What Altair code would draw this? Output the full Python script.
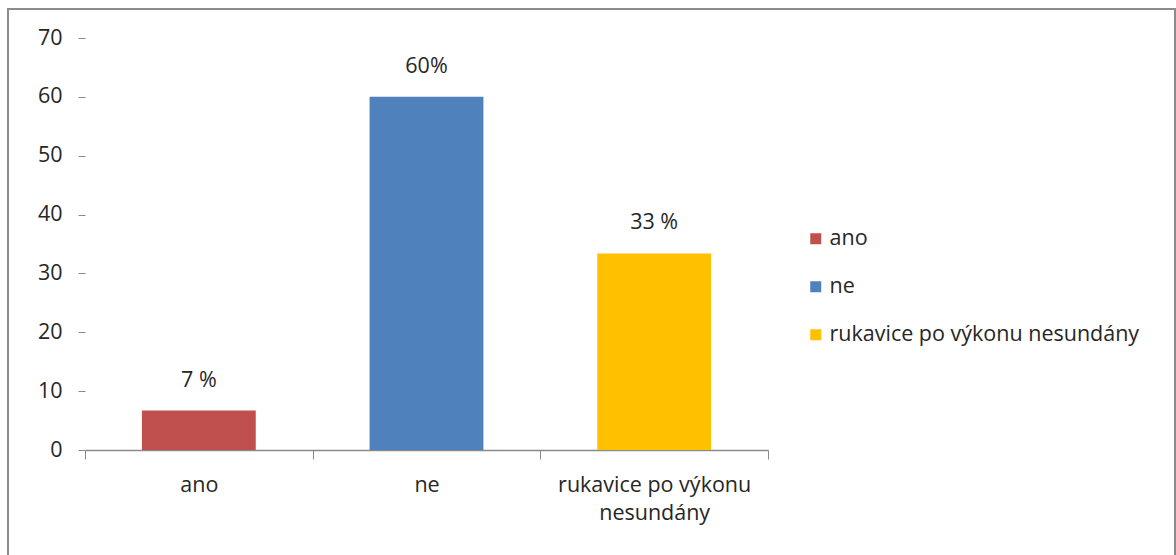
import altair as alt
import pandas as pd

categories = ["ano", "ne", "rukavice po výkonu nesundány"]
values = [6.7, 60.0, 33.4]
value_labels = ["7 %", "60%", "33 %"]
colors = ["#C0504D", "#4F81BD", "#FFC000"]
y_ticks = [0, 10, 20, 30, 40, 50, 60, 70]

df = pd.DataFrame({"cat": categories, "val": values, "lab": value_labels})

FONT = "Open Sans"
FS = 21.5
TXT = "#262626"

x_enc = alt.X(
    "cat:N",
    sort=categories,
    scale=alt.Scale(paddingInner=0, paddingOuter=0),
    axis=alt.Axis(
        title=None,
        labelAngle=0,
        tickBand="extent",
        tickSize=9,
        tickColor="#8a8a8a",
        domainColor="#8a8a8a",
        domainWidth=1.3,
        labelFontSize=FS,
        labelFont=FONT,
        labelColor=TXT,
        labelPadding=15,
        labelLineHeight=28,
        labelLimit=0,
        labelExpr="datum.label == 'rukavice po výkonu nesundány' ? ['rukavice po výkonu', 'nesundány'] : datum.label",
    ),
)
y_enc = alt.Y(
    "val:Q",
    scale=alt.Scale(domain=[0, 70], nice=False),
    axis=alt.Axis(
        title=None,
        values=y_ticks,
        domain=False,
        grid=False,
        tickSize=7,
        tickColor="#8a8a8a",
        labelPadding=16,
        labelFontSize=FS,
        labelFont=FONT,
        labelColor=TXT,
    ),
)

base = alt.Chart(df)

bars = base.mark_bar(width=alt.RelativeBandSize(0.5)).encode(
    x=x_enc,
    y=y_enc,
    color=alt.Color(
        "cat:N",
        scale=alt.Scale(domain=categories, range=colors),
        legend=alt.Legend(
            title=None,
            orient="none",
            legendX=720,
            legendY=190,
            symbolType="square",
            symbolSize=121,
            symbolStrokeWidth=0,
            labelFontSize=FS,
            labelFont=FONT,
            labelColor=TXT,
            labelOffset=3,
            labelLimit=0,
            rowPadding=25,
        ),
    ),
)

text = base.mark_text(dy=-30, fontSize=FS, font=FONT, color=TXT).encode(
    x=alt.X("cat:N", sort=categories),
    y="val:Q",
    text="lab:N",
)

frame = alt.Chart(pd.DataFrame({"a": [0]})).mark_rect(
    fillOpacity=0, stroke="#8c8c8c", strokeWidth=2
).encode(
    x=alt.value(-77), x2=alt.value(1090), y=alt.value(-29), y2=alt.value(530)
)

chart = (
    alt.layer(bars, text, frame)
    .properties(
        width=683,
        height=412,
        autosize=alt.AutoSizeParams(type="none"),
        padding={"left": 85, "top": 38, "right": 408, "bottom": 105},
        background="white",
    )
    .configure_view(stroke=None)
)

chart.save("out.html", embed_options={"renderer": "svg", "actions": False})
